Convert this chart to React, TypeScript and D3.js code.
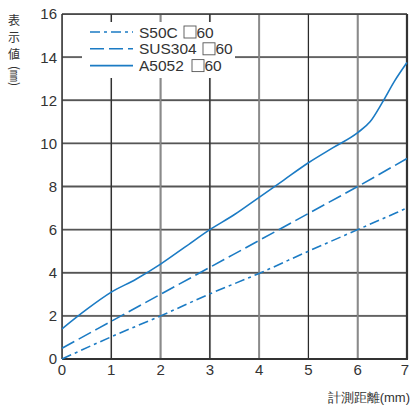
import React from "react";
import * as d3 from "d3";

const xTicks = [0, 1, 2, 3, 4, 5, 6, 7];
const yTicks = [0, 2, 4, 6, 8, 10, 12, 14, 16];

const s50cX = [0, 1, 2, 3, 4, 5, 6, 7];
const s50cY = [0, 1.03, 2.0, 3.02, 3.97, 5.0, 6.0, 7.0];

const sus304X = [0, 1, 2, 3, 4, 5, 6, 7];
const sus304Y = [0.5, 1.75, 3.0, 4.25, 5.5, 6.75, 8.0, 9.3];

const a5052X = [0, 0.5, 1, 1.5, 2, 2.5, 3, 3.5, 4, 4.5, 5, 5.5, 6, 6.25, 6.5, 6.75, 7];
const a5052Y = [1.4, 2.3, 3.1, 3.7, 4.4, 5.2, 6.0, 6.7, 7.5, 8.3, 9.1, 9.8, 10.5, 11.0, 11.9, 12.9, 13.75];

const seriesNames = ["S50C", "SUS304", "A5052"];
const legendSuffix = "60";

const W = 414, H = 406;
const L = 62, R = 407, T = 14, B = 359;
const BLUE = "#1b7bc4";
const TXT = "#333";
const FONT = "'Liberation Sans', Arial, sans-serif";
const CJK = "'Noto Sans CJK JP', sans-serif";

export default function App() {
  const x = d3.scaleLinear().domain([0, 7]).range([L, R]);
  const y = d3.scaleLinear().domain([0, 16]).range([B, T]);
  const line = d3.line<[number, number]>().x(d => x(d[0])).y(d => y(d[1])).curve(d3.curveMonotoneX);
  const pts = (xs: number[], ys: number[]) => xs.map((v, i) => [v, ys[i]] as [number, number]);

  const series = [
    { name: seriesNames[0], d: line(pts(s50cX, s50cY)), dash: "10 4 3 4" },
    { name: seriesNames[1], d: line(pts(sus304X, sus304Y)), dash: "14 5" },
    { name: seriesNames[2], d: line(pts(a5052X, a5052Y)), dash: "none" },
  ];

  const hHoriz = yTicks.filter(t => t > 0 && t < 16);
  const vDark = xTicks.filter(t => t > 0 && t < 7 && t % 2 === 1);
  const vGray = xTicks.filter(t => t > 0 && t < 7 && t % 2 === 0);

  const p1 = d3.path();
  hHoriz.forEach(t => { p1.moveTo(L, y(t)); p1.lineTo(R, y(t)); });
  const p2 = d3.path();
  vDark.forEach(t => { p2.moveTo(x(t), T); p2.lineTo(x(t), B); });
  const p3 = d3.path();
  vGray.forEach(t => { p3.moveTo(x(t), T); p3.lineTo(x(t), B); });

  // pattern-based grid as well (cell = 2 units wide × 2 units tall)
  const cellW = x(2) - x(0);
  const cellH = y(0) - y(2);
  const halfW = x(1) - x(0);

  const yLabelChars = ["表", "示", "値"];
  const boxOffset: Record<string, number> = { S50C: 45, SUS304: 64, A5052: 53 };

  return (
    <svg width={W} height={H} style={{ position: "absolute", left: 0, top: 0, background: "#fff" }} fontFamily={FONT}>
      <defs>
        <pattern id="gridpat" patternUnits="userSpaceOnUse" x={L} y={B} width={cellW} height={cellH}>
          <rect x={0} y={-0.65} width={cellW} height={1.3} fill="#555555" />
          <rect x={halfW - 0.55} y={0} width={1.1} height={cellH} fill="#2a2a2a" />
          <rect x={-0.8} y={0} width={1.6} height={cellH} fill="#8a8a8a" />
          <rect x={cellW - 0.8} y={0} width={1.6} height={cellH} fill="#8a8a8a" />
          <rect x={0} y={cellH - 0.65} width={cellW} height={1.3} fill="#555555" />
        </pattern>
      </defs>
      <rect x={L} y={T} width={R - L} height={B - T} fill="url(#gridpat)" />
      <path d={p1.toString()} fill="none" stroke="#555555" strokeWidth={1.3} />
      <path d={p2.toString()} fill="none" stroke="#2a2a2a" strokeWidth={1.1} />
      <path d={p3.toString()} fill="none" stroke="#8a8a8a" strokeWidth={1.6} />
      <rect x={82} y={22} width={153} height={56} fill="#ffffff" />
      <line x1={L} x2={R} y1={T} y2={T} stroke="#333333" strokeWidth={1.5} />
      <line x1={L} x2={L} y1={T} y2={B} stroke="#333333" strokeWidth={1.5} />
      <line x1={L} x2={R + 1} y1={B} y2={B} stroke="#333333" strokeWidth={2.2} />
      <line x1={R} x2={R} y1={T} y2={B} stroke="#333333" strokeWidth={2.2} />
      {series.map(s => (
        <path key={s.name} d={s.d || ""} fill="none" stroke={BLUE} strokeWidth={1.6} strokeDasharray={s.dash} />
      ))}
      {series.map((s, i) => {
        const ly = 32 + i * 16.8;
        const bo = boxOffset[s.name];
        return (
          <g key={"lg" + s.name}>
            <line x1={90} x2={133} y1={ly} y2={ly} stroke={BLUE} strokeWidth={1.6} strokeDasharray={s.dash} />
            <text x={139} y={ly} dy="0.36em" fontSize={15.5} fill={TXT}>{s.name}</text>
            <rect x={139 + bo} y={ly - 6} width={12} height={12} fill="none" stroke="#555" strokeWidth={0.9} />
            <text x={139 + bo + 12.5} y={ly} dy="0.36em" fontSize={15.5} fill={TXT}>{legendSuffix}</text>
          </g>
        );
      })}
      {yTicks.map(t => (
        <text key={"yl" + t} x={57} y={y(t)} dy="0.36em" textAnchor="end" fontSize={15} fill={TXT}>{t}</text>
      ))}
      {xTicks.map(t => (
        <text key={"xl" + t} x={x(t) + (t === 7 ? -2 : 0)} y={370} dy="0.36em" textAnchor="middle" fontSize={15} fill={TXT}>{t}</text>
      ))}
      {yLabelChars.map((c, i) => (
        <text key={"yc" + i} x={14} y={21 + i * 17} dy="0.36em" textAnchor="middle" fontSize={12} fill={TXT} fontFamily={CJK}>{c}</text>
      ))}
      <text x={14} y={76} dy="0.36em" textAnchor="middle" fontSize={12} fill={TXT} fontFamily={CJK}
        transform="rotate(90 14 76)">(㎜)</text>
      <text x={410} y={397} dy="0.36em" textAnchor="end" fontSize={13} fill={TXT}>計測距離(mm)</text>
    </svg>
  );
}
